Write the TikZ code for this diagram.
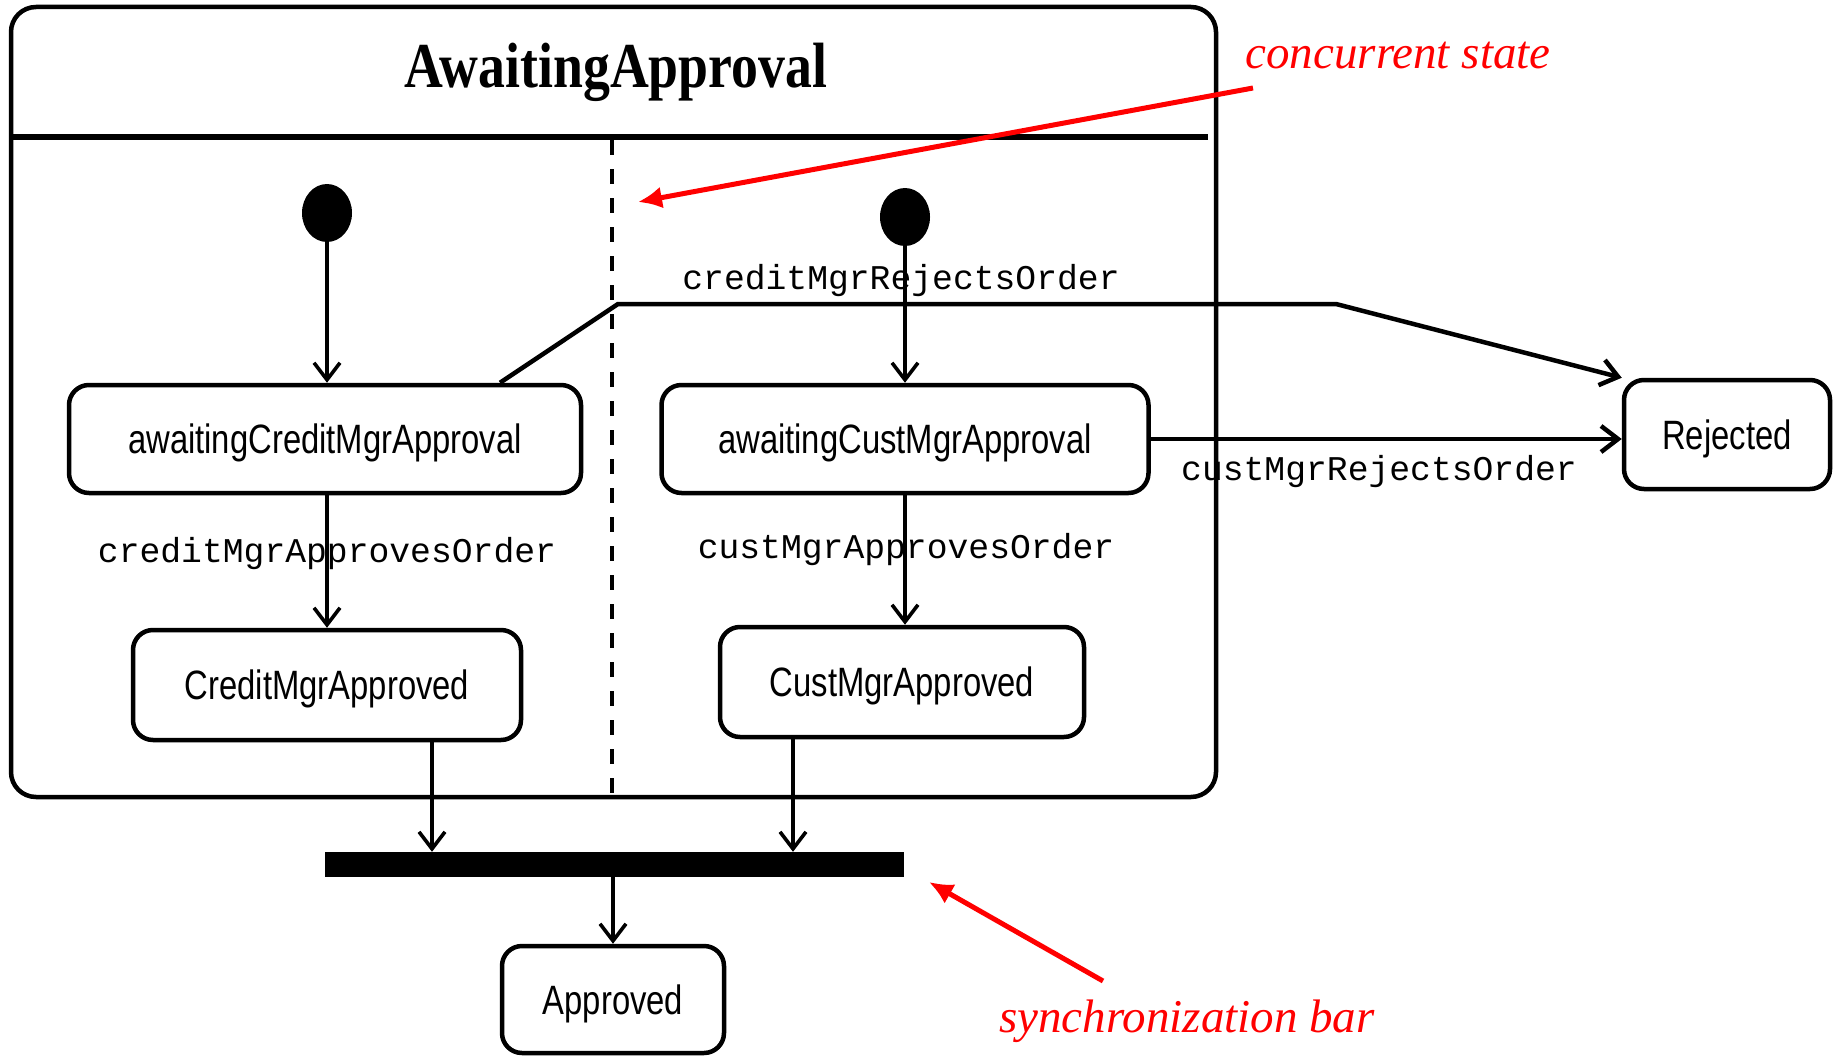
\documentclass[tikz,border=0pt]{standalone}
\usepackage{fontspec}
\setmainfont{Liberation Serif}
\newfontfamily\titlefont[FakeStretch=0.84]{Liberation Serif}
\newfontfamily\statefont[FakeStretch=0.8]{Liberation Sans}
\newfontfamily\evfont{Liberation Mono}
\usetikzlibrary{arrows.meta,shapes.geometric}

\begin{document}
\begin{tikzpicture}[x=1pt,y=-1pt,
  state/.style={draw, line width=4.5pt, rounded corners=20pt, fill=white, inner sep=0pt,
    text height=29pt, text depth=0pt, font=\statefont\fontsize{41}{49}\selectfont},
  initdot/.style={ellipse, fill=black, minimum width=50pt, minimum height=58pt, inner sep=0pt},
  conn/.style={line width=3.6pt, -{Straight Barb[length=17pt,width=26pt]}},
  event/.style={anchor=base, inner sep=0pt, font=\evfont\fontsize{34.7}{40}\selectfont},
  note/.style={anchor=base, inner sep=0pt, text=red, font=\itshape\fontsize{47}{54}\selectfont},
  notearrow/.style={draw=red, line width=5pt, -{Latex[length=24pt,width=22pt]}},
  region/.style={line width=3.6pt, dash pattern=on 15pt off 14pt}
]
\useasboundingbox (0,0) rectangle (1839,1057);

% composite state with its name compartment
\node[draw, line width=4.5pt, rounded corners=25pt, minimum width=1205pt, minimum height=790pt,
  inner sep=0pt] (aa) at (613.5,402) {};
\node[anchor=base, inner sep=0pt, font=\titlefont\bfseries\fontsize{64}{70}\selectfont]
  (title) at (616,88) {AwaitingApproval};
\coordinate (hl) at (11,137);
\coordinate (hr) at (1208,137);
\draw[line width=6.5pt] (hl) -- (hr);

% boundary between the two concurrent regions
\coordinate (dv1) at (612,140);
\coordinate (dv2) at (612,795);
\draw[region] (dv1) -- (dv2);

% left region
\node[initdot] (d1) at (327,213) {};
\node[state, minimum width=512pt, minimum height=108pt] (acm) at (325,439) {awaitingCreditMgrApproval};
\node[state, minimum width=388pt, minimum height=110pt] (cma) at (327,685) {CreditMgrApproved};

% right region
\node[initdot] (d2) at (905,217) {};
\node[state, minimum width=487pt, minimum height=108pt] (aum) at (905,439) {awaitingCustMgrApproval};
\node[state, minimum width=364pt, minimum height=110pt] (uma) at (902,682) {CustMgrApproved};

% states outside the composite
\node[state, minimum width=206pt, minimum height=109pt] (rej) at (1727,434.5) {Rejected};
\node[state, minimum width=222pt, minimum height=107pt] (app) at (613,999.5) {Approved};

% synchronization bar
\node[fill=black, minimum width=579pt, minimum height=25pt, inner sep=0pt] (bar) at (614.5,864.5) {};

% transitions in the left region
\draw[conn] (d1.south) -- (d1.south |- acm.north);
\draw[conn] (d1.south |- acm.south) -- (d1.south |- cma.north);
\node[event] (l1) at (327,562) {creditMgrApprovesOrder};

% transitions in the right region
\draw[conn] (d2.south) -- (d2.south |- aum.north);
\draw[conn] (d2.south |- aum.south) -- (d2.south |- uma.north);
\node[event] (l2) at (906,558) {custMgrApprovesOrder};

% rejections
\coordinate (r0) at (500,0);
\coordinate (r1) at (618,304);
\coordinate (r2) at (1336,304);
\draw[conn, line width=4.5pt] (acm.north -| r0) -- (r1) -- (r2) -- (rej.north west);
\node[event] (l3) at (901,289) {creditMgrRejectsOrder};
\draw[conn, line width=4.5pt] (aum.east) -- (aum.east -| rej.west);
\node[event] (l4) at (1379,480) {custMgrRejectsOrder};

% joins into the bar and out to Approved
\coordinate (j1) at (432,0);
\coordinate (j2) at (793,0);
\draw[conn] (cma.south -| j1) -- (bar.north -| j1);
\draw[conn] (uma.south -| j2) -- (bar.north -| j2);
\draw[conn] (bar.south -| app.north) -- (app.north);

% annotations
\node[note] (n1) at (1398,68) {concurrent state};
\coordinate (c1) at (1253,88);
\coordinate (c2) at (638,202);
\draw[notearrow] (c1) -- (c2);
\node[note] (n2) at (1187,1032) {synchronization bar};
\coordinate (s1) at (1103,981);
\coordinate (s2) at (929,882);
\draw[notearrow] (s1) -- (s2);
\end{tikzpicture}
\end{document}
